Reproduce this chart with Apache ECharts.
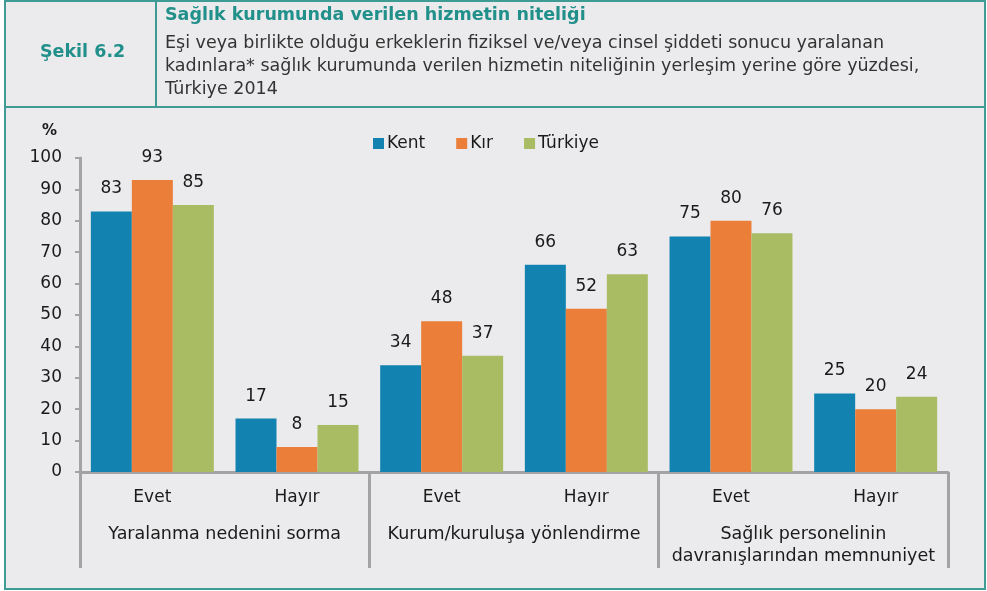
<!DOCTYPE html>
<html>
<head>
<meta charset="utf-8">
<script src="https://cdn.jsdelivr.net/npm/echarts@6/dist/echarts.min.js"></script>
<style>
html, body { margin: 0; padding: 0; background: #fff; }
#chart { width: 987px; height: 591px; }
</style>
</head>
<body>
<div id="chart"></div>
<script>
// data
var answers = ['Evet', 'Hayır', 'Evet', 'Hayır', 'Evet', 'Hayır']
var groups = ['Yaralanma nedenini sorma', 'Kurum/kuruluşa yönlendirme', 'Sağlık personelinin\ndavranışlarından memnuniyet']
var kent = [83, 17, 34, 66, 75, 25]
var kir = [93, 8, 48, 52, 80, 20]
var turkiye = [85, 15, 37, 63, 76, 24]
var yTicks = [0, 10, 20, 30, 40, 50, 60, 70, 80, 90, 100]

var FONT = 'DejaVu Sans'
var TEAL = '#21908a'
var BORDER = '#3f9c95'

var chart = echarts.init(document.getElementById('chart'))

function barSeries(name, data, color) {
	return {
		name: name,
		type: 'bar',
		data: data,
		barGap: '0%',
		barCategoryGap: '15%',
		itemStyle: { color: color },
		label: {
			show: true,
			position: 'top',
			distance: 14,
			color: '#1a1a1a',
			fontFamily: FONT,
			fontSize: 17,
		},
	}
}

var options = {
	backgroundColor: '#ffffff',
	animation: false,
	textStyle: { fontFamily: FONT },
	graphic: [
		{
			type: 'rect',
			z: -10,
			shape: { x: 5, y: 1, width: 980, height: 588 },
			style: { fill: '#ebebed', stroke: BORDER, lineWidth: 2 },
		},
		{
			type: 'line',
			z: -9,
			shape: { x1: 5, y1: 107, x2: 985, y2: 107 },
			style: { stroke: BORDER, lineWidth: 2 },
		},
		{
			type: 'line',
			z: -9,
			shape: { x1: 156, y1: 1, x2: 156, y2: 107 },
			style: { stroke: BORDER, lineWidth: 2 },
		},
		{
			type: 'text',
			left: 40,
			top: 43,
			style: { text: 'Şekil 6.2', fill: TEAL, font: 'bold 17.5px "DejaVu Sans"' },
		},
		{
			type: 'text',
			left: 165,
			top: 6,
			style: { text: 'Sağlık kurumunda verilen hizmetin niteliği', fill: TEAL, font: 'bold 17.5px "DejaVu Sans"' },
		},
		{
			type: 'text',
			left: 165,
			top: 32,
			style: {
				text: 'Eşi veya birlikte olduğu erkeklerin fiziksel ve/veya cinsel şiddeti sonucu yaralanan\nkadınlara* sağlık kurumunda verilen hizmetin niteliğinin yerleşim yerine göre yüzdesi,\nTürkiye 2014',
				fill: '#333333',
				font: '17.5px "DejaVu Sans"',
				lineHeight: 23,
			},
		},
		{
			type: 'text',
			left: 42,
			top: 124,
			style: { text: '%', fill: '#1a1a1a', font: 'bold 15px "DejaVu Sans"' },
		},
	],
	legend: {
		data: ['Kent', 'Kır', 'Türkiye'],
		left: 368,
		top: 130,
		icon: 'rect',
		itemWidth: 11,
		itemHeight: 11,
		itemGap: 31,
		textStyle: { fontFamily: FONT, fontSize: 17, color: '#1a1a1a', padding: [0, 0, 0, -2] },
	},
	grid: {
		left: 80,
		right: 39,
		top: 158,
		bottom: 119,
		containLabel: false,
	},
	xAxis: [
		{
			type: 'category',
			data: answers,
			axisLine: { show: true, lineStyle: { color: '#a3a3a3', width: 3 } },
			axisTick: { show: false },
			axisLabel: { color: '#1a1a1a', fontSize: 17, margin: 17, fontFamily: FONT, interval: 0 },
		},
		{
			type: 'category',
			data: groups,
			position: 'bottom',
			axisLine: { show: false },
			axisTick: { show: true, interval: 0, length: 96, lineStyle: { color: '#a3a3a3', width: 3 } },
			axisLabel: {
				color: '#1a1a1a',
				fontSize: 17.5,
				margin: 51,
				lineHeight: 22,
				fontFamily: FONT,
				verticalAlign: 'top',
				interval: 0,
				hideOverlap: false,
			},
		},
	],
	yAxis: {
		type: 'value',
		min: 0,
		max: 100,
		interval: 10,
		axisLine: { show: true, lineStyle: { color: '#a3a3a3', width: 3 } },
		axisTick: { show: true, length: 5, lineStyle: { color: '#a3a3a3', width: 2 } },
		axisLabel: {
			color: '#1a1a1a',
			fontSize: 17,
			margin: 18,
			fontFamily: FONT,
			formatter: function(v) {
				return yTicks.indexOf(v) >= 0 ? String(v) : ''
			},
		},
		splitLine: { show: false },
	},
	series: [
		barSeries('Kent', kent, '#1282b0'),
		barSeries('Kır', kir, '#eb7e39'),
		barSeries('Türkiye', turkiye, '#a9bc63'),
	],
}
chart.setOption(options, true)
</script>
</body>
</html>
